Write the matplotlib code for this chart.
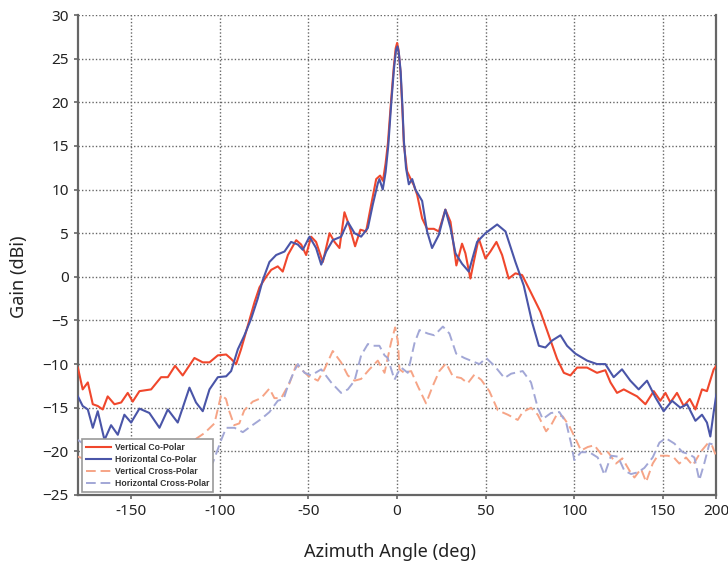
import matplotlib

matplotlib.use('agg')
import matplotlib.pyplot as plt

# Vertical Co-Polar (solid red)
vco_x = [-180, -177.3, -174.4, -171.6, -168.8, -166, -163.2, -159.4, -155.6, -151.9, -149.1, -145.3,
         -138.7, -133.1, -129.3, -125.2, -120.9, -114.3, -109.6, -105.8, -101.1, -96.4, -93.6, -90.8,
         -88, -84.2, -80.4, -77.6, -73.9, -71, -67.3, -64.5, -61.6, -56.9, -54.1, -51.3, -48.5, -45.7,
         -41.9, -38.1, -35.3, -32.5, -29.7, -26.9, -23.7, -20.7, -17.5, -14.6, -11.8, -9.6, -8.0, -6.5,
         -5.2, -3.4, -1.9, -0.8, 0, 0.8, 1.9, 3.0, 3.8, 5.6, 7.9, 9.4, 11.3, 14.1, 16.9, 20.7, 23.5,
         27.2, 30.1, 33.4, 36.6, 38.5, 41.3, 43.2, 46, 49.8, 52.6, 56, 59.2, 62.9, 66.7, 70.5, 75.2,
         80.8, 85.5, 90.2, 94, 97.7, 101.5, 107.1, 112.7, 117.4, 120.3, 124, 127.8, 131.5, 135.3, 140,
         144.7, 148.4, 151.3, 154.1, 157.8, 161.6, 165, 168.2, 171.9, 174.7, 178.5, 180]
vco_y = [-10.4, -12.9, -12.1, -14.6, -14.8, -15.2, -13.7, -14.6, -14.4, -13.3, -14.3, -13.1,
         -12.9, -11.5, -11.5, -10.2, -11.3, -9.3, -9.8, -9.8, -9.0, -8.9, -9.4, -10.0,
         -8.3, -5.6, -2.9, -1.2, 0.0, 0.8, 1.2, 0.6, 2.5, 4.2, 3.7, 2.5, 4.6, 4.0,
         1.7, 5.0, 4.0, 3.3, 7.4, 5.8, 3.5, 5.4, 5.2, 8.3, 11.2, 11.6, 11.0, 13.0,
         15.3, 20.2, 24.0, 26.2, 26.8, 26.0, 23.5, 19.0, 15.2, 12.1, 11.1, 10.5, 9.4, 6.7, 5.5, 5.5, 5.2,
         7.7, 6.3, 1.3, 3.8, 2.7, -0.2, 1.7, 4.4, 2.1, 2.9, 4.0, 2.5, -0.2, 0.4, 0.2, -1.7,
         -4.0, -6.7, -9.4, -11.0, -11.3, -10.4, -10.4, -11.0, -10.7, -12.1, -13.3, -12.9, -13.3, -13.7, -14.6,
         -13.1, -14.2, -13.3, -14.4, -13.3, -14.8, -14.0, -15.2, -12.9, -13.1, -10.6, -10.2]

# Horizontal Co-Polar (solid blue)
hco_x = [-180, -177.3, -174.4, -171.6, -168.8, -165, -161.3, -157.5, -153.8, -150, -145.3, -139.7,
         -134, -129.3, -123.7, -117.1, -113.4, -109.6, -105.8, -101.1, -96.4, -93.6, -89.8, -86.1,
         -82.3, -78.6, -75.8, -72, -68.2, -63.5, -59.8, -56, -53.2, -49.4, -45.7, -42.8, -40, -36.3,
         -31.6, -27.8, -24, -20.3, -16.5, -13.7, -10.9, -10.0, -8.1, -6.5, -5.0, -3.2, -1.7, -0.6, 0.2,
         1.0, 2.0, 3.0, 3.8, 5.0, 6.6, 8.5, 10.3, 14.1, 16.9, 19.7, 23.5, 27.2, 30.1, 32.9, 36.6, 40.4,
         45.1, 49.8, 56.4, 61.1, 66.7, 71.4, 76.1, 79.9, 83.6, 87.4, 92.1, 95.8, 100.5, 107.1, 112.7,
         117.4, 122.1, 126.8, 131.5, 136.2, 140.9, 145.6, 150.3, 155, 159.7, 163.5, 168.2, 171.9, 174.7,
         176.6, 178.5, 180]
hco_y = [-13.7, -14.8, -15.2, -17.3, -15.4, -18.7, -17.0, -18.1, -15.8, -16.7, -15.1, -15.6,
         -17.3, -15.2, -16.7, -12.7, -14.4, -15.4, -12.9, -11.5, -11.4, -10.8, -8.3, -6.7,
         -4.8, -2.5, -0.4, 1.7, 2.5, 2.9, 4.0, 3.7, 3.1, 4.6, 3.3, 1.4, 2.9, 4.2,
         4.6, 6.3, 5.0, 4.6, 5.6, 8.3, 10.7, 11.2, 10.0, 12.0, 15.0, 20.2, 24.0, 26.0, 26.4,
         25.6, 23.5, 19.5, 15.6, 12.5, 10.6, 11.2, 10.0, 8.7, 5.2, 3.3, 4.8, 7.7, 5.6, 2.7, 1.5, 0.6,
         4.0, 5.0, 6.0, 5.2, 1.7, -1.0, -5.2, -7.9, -8.1, -7.3, -6.7, -7.9, -8.8, -9.6, -10.0,
         -10.0, -11.5, -10.6, -11.9, -12.9, -11.9, -13.8, -15.4, -14.2, -15.0, -14.6, -16.5, -15.8, -16.7,
         -18.3, -15.5, -13.5]

# Vertical Cross-Polar (dashed light red)
vx_x = [-180, -172, -164, -155, -146, -137, -128, -120, -114.4, -108.6, -103, -99.2, -96.5, -94.8,
        -91.9, -89, -86.2, -81.4, -76.7, -72, -69.2, -65.4, -60.7, -56.9, -54, -50.4, -44.7, -41,
        -36.3, -31.6, -27.8, -24, -20.3, -15.6, -10.9, -7.1, -3.4, -1.1, 0.5, 1.3, 4, 7.9, 11.6, 16.3,
        20.1, 23.8, 27.6, 31.4, 36.1, 39.8, 43.6, 47.4, 52, 56.8, 62.4, 68, 70.8, 75.5, 79.3, 84,
        86.8, 90, 93.4, 97.1, 100.9, 103.7, 107.5, 111.2, 115, 119, 123.4, 127, 131, 133.8, 137.5,
        140.4, 144.1, 146.9, 152.6, 156, 159.1, 162.9, 166.7, 171.4, 175.1, 177.5, 180]
vx_y = [-20.6, -21.2, -20.5, -21.5, -20.8, -21.4, -20.6, -19.8, -18.7, -17.9, -16.8, -13.5, -14.0, -15.3,
        -17.0, -16.8, -15.3, -14.3, -13.9, -12.8, -13.9, -13.9, -12.2, -10.1, -10.6, -11.3, -11.9, -10.6,
        -8.5, -9.8, -11.3, -11.9, -11.7, -10.6, -9.6, -11.0, -7.5, -5.8, -7.5, -10.6, -11.0, -10.8, -12.5, -14.5,
        -12.5, -10.8, -9.9, -11.4, -11.6, -12.2, -11.2, -11.8, -13.1, -15.3, -15.8, -16.4, -15.5, -15.0, -15.8, -17.7,
        -17.0, -15.8, -16.0, -17.1, -18.7, -19.9, -19.5, -19.3, -20.3, -20.1, -21.4, -20.8, -22.2, -23.0, -22.0,
        -23.5, -21.4, -20.5, -20.5, -20.7, -21.4, -20.7, -21.6, -20.0, -19.1, -19.3, -20.6]

# Horizontal Cross-Polar (dashed light blue)
hx_x = [-180, -174, -166, -158, -150, -140, -130, -120, -110.5, -103.9, -99.2, -96.4, -91.7, -87,
        -82.3, -76.7, -72, -67.3, -64, -61.6, -58, -56, -52.2, -48.5, -42.8, -37.2, -31.6, -27.8, -24,
        -20.3, -16.5, -13.7, -10, -7.1, -5.3, -3, -1.5, 0.4, 2.3, 6, 9.8, 12.6, 17.3, 21, 25.8, 29.5,
        33.3, 37.9, 42.7, 46.4, 50.2, 54.9, 60.5, 64.3, 70.8, 75.5, 79.3, 82.1, 86.8, 91.5, 95.3, 98.1,
        99.9, 103.7, 108.4, 113.1, 116.9, 120.6, 124.5, 128.1, 131.9, 135.7, 139.4, 144.1, 147.9, 151.6,
        156.3, 161, 164.5, 167.6, 170.4, 173.3, 176.1, 180]
hx_y = [-18.7, -19.5, -19.0, -19.8, -19.3, -19.8, -19.0, -19.5, -19.3, -21.3, -18.7, -17.3, -17.3, -17.8,
        -17.1, -16.3, -15.5, -14.2, -14.0, -12.5, -10.8, -10.0, -11.0, -11.3, -10.6, -12.1, -13.3, -12.9, -11.9,
        -9.0, -7.7, -7.9, -7.9, -9.0, -9.3, -10.8, -11.8, -11.0, -10.4, -11.0, -7.6, -6.1, -6.5, -6.7, -5.7, -6.5,
        -8.8, -9.3, -9.7, -10.0, -9.3, -10.2, -11.6, -11.1, -10.8, -12.1, -15.0, -16.3, -15.6, -15.5, -16.7, -19.1,
        -21.0, -20.1, -20.1, -20.7, -22.7, -20.5, -20.6, -22.2, -22.6, -22.4, -21.9, -20.7, -19.0, -18.5,
        -19.1, -20.1, -20.3, -20.7, -23.3, -21.3, -19.1, -19.3]

x_ticks = [-150, -100, -50, 0, 50, 100, 150, 180]
x_tick_labels = ['-150', '-100', '-50', '0', '50', '100', '150', '200']
y_ticks = list(range(-25, 31, 5))

plt.rcParams['font.family'] = ['Noto Sans', 'DejaVu Sans']

fig = plt.figure(figsize=(7.28, 5.67), dpi=100)
ax = fig.add_axes([0.107, 0.127, 0.877, 0.8465])

ax.plot(vco_x, vco_y, color='#f0472c', lw=1.5, label='Vertical Co-Polar', zorder=4)
ax.plot(hco_x, hco_y, color='#4a55a8', lw=1.5, label='Horizontal Co-Polar', zorder=4)
ax.plot(vx_x, vx_y, color='#f6a486', lw=1.4, dashes=(5, 2.5), label='Vertical Cross-Polar', zorder=3)
ax.plot(hx_x, hx_y, color='#a2a7d6', lw=1.4, dashes=(5, 2.5), label='Horizontal Cross-Polar', zorder=3)

ax.set_xlim(-180, 180)
ax.set_ylim(-25, 30)
ax.set_xticks(x_ticks)
ax.set_xticklabels(x_tick_labels)
ax.set_yticks(y_ticks)
ax.tick_params(labelsize=11, colors='#666666', labelcolor='#222222', direction='out', length=3, width=1.2)

ax.grid(True, color='#666666', linestyle=(0, (1, 1.5)), lw=1)
for side in ['left', 'bottom', 'right']:
    ax.spines[side].set_color('#666666')
    ax.spines[side].set_linewidth(1.6)
ax.spines['top'].set_visible(False)

ax.set_xlabel('Azimuth Angle (deg)', fontsize=13, color='#222222')
ax.set_ylabel('Gain (dBi)', fontsize=13, color='#222222')
ax.xaxis.set_label_coords(0.489, -0.1)
ax.yaxis.set_label_coords(-0.078, 0.454)

leg = ax.legend(loc='lower left', bbox_to_anchor=(0.006, 0.006), borderaxespad=0,
                fancybox=False, framealpha=1, edgecolor='#999999',
                prop={'family': 'Liberation Sans', 'weight': 'bold', 'size': 6.2},
                handlelength=3.0, handletextpad=0.4, labelspacing=0.35, borderpad=0.45)
leg.get_frame().set_linewidth(1.2)
for t in leg.get_texts():
    t.set_color('#333333')
leg.set_zorder(10)

plt.savefig('out.png', dpi=100)
